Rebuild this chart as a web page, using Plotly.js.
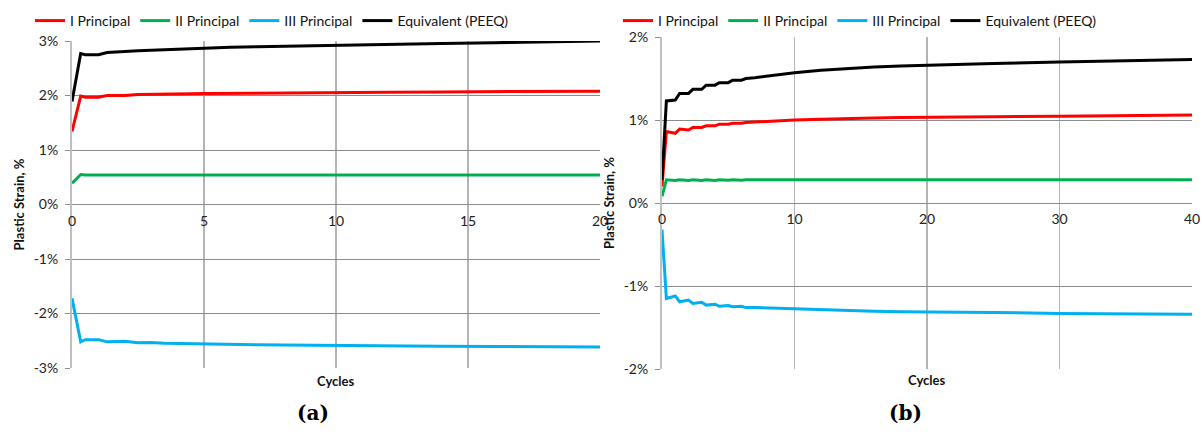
<!DOCTYPE html>
<html>
<head>
<meta charset="utf-8">
<script src="https://cdn.plot.ly/plotly-3.0.1.min.js"></script>
<style>html,body{margin:0;padding:0;background:#fff;}#chart{width:1204px;height:436px;}</style>
</head>
<body>
<div id="chart"></div>
<script>
// ---------- Data (values in % plastic strain) ----------
const seriesNames = ["I Principal", "II Principal", "III Principal", "Equivalent (PEEQ)"];

// Panel (a)
const cyclesA = [0, 0.33, 0.5, 1, 1.33, 2, 2.5, 3, 3.5, 4, 4.5, 5, 6, 7, 8, 10, 12, 14, 16, 18, 20];
const principal1A = [1.34, 1.99, 1.97, 1.97, 2.00, 2.00, 2.02, 2.02, 2.03, 2.03, 2.03, 2.035, 2.04, 2.045, 2.05, 2.055, 2.06, 2.065, 2.07, 2.075, 2.08];
const principal2A = [0.39, 0.55, 0.54, 0.54, 0.54, 0.54, 0.54, 0.54, 0.54, 0.54, 0.54, 0.54, 0.54, 0.54, 0.54, 0.54, 0.54, 0.54, 0.54, 0.54, 0.54];
const principal3A = [-1.72, -2.52, -2.48, -2.48, -2.52, -2.51, -2.535, -2.53, -2.545, -2.55, -2.56, -2.56, -2.57, -2.575, -2.58, -2.59, -2.595, -2.60, -2.605, -2.61, -2.615];
const peeqA = [1.89, 2.77, 2.75, 2.75, 2.79, 2.80, 2.82, 2.83, 2.84, 2.85, 2.86, 2.87, 2.885, 2.895, 2.905, 2.925, 2.94, 2.955, 2.97, 2.985, 3.0];

// Panel (b)
const cyclesB = [0, 0.33, 1, 1.33, 2, 2.33, 3, 3.33, 4, 4.33, 5, 5.33, 6, 6.33, 7, 8, 9, 10, 12, 14, 16, 18, 20, 25, 30, 35, 40];
const principal1B = [0.20, 0.86, 0.84, 0.89, 0.88, 0.91, 0.91, 0.93, 0.93, 0.95, 0.95, 0.96, 0.96, 0.97, 0.975, 0.985, 0.99, 1.0, 1.01, 1.02, 1.025, 1.03, 1.035, 1.04, 1.045, 1.05, 1.06];
const principal2B = [0.08, 0.28, 0.27, 0.28, 0.27, 0.28, 0.27, 0.28, 0.27, 0.28, 0.275, 0.28, 0.275, 0.28, 0.28, 0.28, 0.28, 0.28, 0.28, 0.28, 0.28, 0.28, 0.28, 0.28, 0.28, 0.28, 0.28];
const principal3B = [-0.32, -1.15, -1.12, -1.19, -1.17, -1.21, -1.195, -1.23, -1.22, -1.245, -1.235, -1.25, -1.245, -1.26, -1.26, -1.265, -1.27, -1.28, -1.29, -1.30, -1.305, -1.31, -1.315, -1.32, -1.33, -1.335, -1.34];
const peeqB = [0.28, 1.23, 1.24, 1.32, 1.32, 1.37, 1.37, 1.42, 1.42, 1.45, 1.45, 1.48, 1.48, 1.50, 1.51, 1.53, 1.55, 1.57, 1.60, 1.62, 1.64, 1.65, 1.66, 1.68, 1.70, 1.715, 1.73];

// Tick labels
const xTicksA = [0, 5, 10, 15, 20];
const xTicksB = [0, 10, 20, 30, 40];
const yTicksA = [-3, -2, -1, 0, 1, 2, 3];
const yTickTextA = ["-3%", "-2%", "-1%", "0%", "1%", "2%", "3%"];
const yTicksB = [-2, -1, 0, 1, 2];
const yTickTextB = ["-2%", "-1%", "0%", "1%", "2%"];
const axisTitleY = "Plastic Strain, %";
const axisTitleX = "Cycles";
const panelLabels = ["(a)", "(b)"];

// ---------- Styles ----------
const colors = ["#ff0000", "#00b050", "#00b0f0", "#000000"];
const W = 1204, H = 436;
const font = "Lato, 'Open Sans', sans-serif";

function mk(x, y, i, xa, ya, lg) {
  return {
    x: x, y: y, type: "scatter", mode: "lines", name: seriesNames[i],
    line: {color: colors[i], width: 3},
    xaxis: xa, yaxis: ya, legend: lg, showlegend: true, hoverinfo: "skip"
  };
}

const traces = [
  mk(cyclesA, principal1A, 0, "x", "y", "legend"),
  mk(cyclesA, principal2A, 1, "x", "y", "legend"),
  mk(cyclesA, principal3A, 2, "x", "y", "legend"),
  mk(cyclesA, peeqA, 3, "x", "y", "legend"),
  mk(cyclesB, principal1B, 0, "x2", "y2", "legend2"),
  mk(cyclesB, principal2B, 1, "x2", "y2", "legend2"),
  mk(cyclesB, principal3B, 2, "x2", "y2", "legend2"),
  mk(cyclesB, peeqB, 3, "x2", "y2", "legend2")
];

const px = v => v / W;
const py = v => 1 - v / H;

function xaxisDef(domain, range, ticks, zeroPos) {
  return {
    domain: domain, range: range, tickvals: ticks, ticktext: ticks.map(String),
    anchor: "free", position: zeroPos,
    showgrid: true, gridcolor: "#b4b4b4", gridwidth: 1.5,
    zeroline: false, showline: false, ticks: "", ticklabelstandoff: 6,
    tickfont: {family: font, size: 14, color: "#222"},
    automargin: false, fixedrange: true
  };
}
function yaxisDef(domain, range, vals, text, xanchor) {
  return {
    domain: domain, range: range, tickvals: vals, ticktext: text,
    anchor: xanchor, showgrid: true, gridcolor: "#8c8c8c", gridwidth: 1,
    zeroline: false, showline: true, linecolor: "#bfbfbf", linewidth: 2,
    ticks: "outside", ticklen: 5, tickcolor: "#8c8c8c", ticklabelstandoff: 4,
    tickfont: {family: font, size: 14, color: "#222"},
    title: {text: "<b>" + axisTitleY + "</b>", font: {family: font, size: 13, color: "#111"}, standoff: 6},
    automargin: false, fixedrange: true
  };
}

const legendDef = (x) => ({
  orientation: "h", x: x, xanchor: "left", y: py(5), yanchor: "top",
  font: {family: font, size: 14, color: "#111"}, bgcolor: "rgba(0,0,0,0)",
  itemwidth: 30, tracegroupgap: 0
});

function label(text, xPix, yPix, f) {
  return {text: text, x: xPix / W, y: py(yPix), xref: "paper", yref: "paper",
          xanchor: "center", yanchor: "middle", showarrow: false, font: f};
}

const layout = {
  width: W, height: H,
  margin: {l: 0, r: 0, t: 0, b: 0, autoexpand: false},
  paper_bgcolor: "#fff", plot_bgcolor: "#fff",
  xaxis: xaxisDef([px(72), px(600)], [0, 20], xTicksA, py(204.5)),
  yaxis: yaxisDef([py(368), py(41)], [-3, 3], yTicksA, yTickTextA, "x"),
  xaxis2: xaxisDef([px(662), px(1192)], [0, 40], xTicksB, py(203)),
  yaxis2: yaxisDef([py(369), py(37)], [-2, 2], yTicksB, yTickTextB, "x2"),
  legend: legendDef(px(30)),
  legend2: legendDef(px(618)),
  annotations: [
    label("<b>" + axisTitleX + "</b>", 335, 381, {family: font, size: 13, color: "#111"}),
    label("<b>" + axisTitleX + "</b>", 926, 380, {family: font, size: 13, color: "#111"}),
    label("<b>" + panelLabels[0] + "</b>", 313, 413, {family: "'DejaVu Serif', serif", size: 20, color: "#000"}),
    label("<b>" + panelLabels[1] + "</b>", 905, 413, {family: "'DejaVu Serif', serif", size: 20, color: "#000"})
  ],
  showlegend: true
};

Plotly.newPlot("chart", traces, layout, {staticPlot: true, displayModeBar: false});
</script>
</body>
</html>
